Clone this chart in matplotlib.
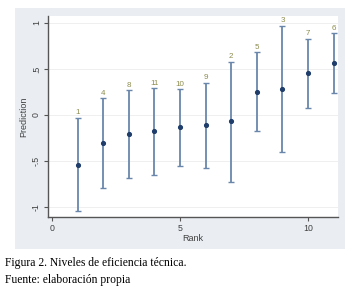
import matplotlib
matplotlib.use("Agg")
import matplotlib.pyplot as plt
from matplotlib.patches import Rectangle

rank = [1, 2, 3, 4, 5, 6, 7, 8, 9, 10, 11]
prediction = [-0.54, -0.31, -0.21, -0.18, -0.13, -0.11, -0.07, 0.25, 0.28, 0.46, 0.57]
upper = [-0.03, 0.18, 0.27, 0.29, 0.28, 0.35, 0.58, 0.68, 0.97, 0.83, 0.89]
lower = [-1.05, -0.80, -0.69, -0.65, -0.56, -0.58, -0.73, -0.17, -0.40, 0.08, 0.24]
labels = ["1", "4", "8", "11", "10", "9", "2", "5", "3", "7", "6"]
yticks = [-1, -0.5, 0, 0.5, 1]
ytick_labels = ["-1", "-.5", "0", ".5", "1"]
xticks = [0, 5, 10]
xtick_labels = ["0", "5", "10"]

W, H = 354, 291
fig = plt.figure(figsize=(W / 100, H / 100), dpi=100)
fig.patch.set_facecolor("white")

# Stata-style graph region
fig.patches.append(Rectangle((15 / W, 1 - 249 / H), 330 / W, 241 / H,
                             transform=fig.transFigure, facecolor="#eaeef3",
                             edgecolor="none", zorder=0))

ax = fig.add_axes([48 / W, 1 - 217 / H, 290 / W, 201 / H])
ax.set_facecolor("white")
ax.set_zorder(1)

bar_color = "#6a87ab"
pt_color = "#1f3d6b"
lab_color = "#8c8c4e"
txt_color = "#404040"

yerr = [[p - l for p, l in zip(prediction, lower)],
        [u - p for p, u in zip(prediction, upper)]]
ax.errorbar(rank, prediction, yerr=yerr, fmt="o", color=pt_color, ms=2.7,
            ecolor=bar_color, elinewidth=1.3, capsize=2.2, capthick=1.0, zorder=3)

for x, u, t in zip(rank, upper, labels):
    ax.annotate(t, (x, u), xytext=(0, 1.0), textcoords="offset points",
                ha="center", va="bottom", fontsize=5.8, color=lab_color,
                family="Liberation Sans")

ax.set_xlim(-0.16, 11.17)
ax.set_ylim(-1.11, 1.076)
ax.set_yticks(yticks)
ax.set_yticklabels(ytick_labels, rotation=90, va="center")
ax.set_xticks(xticks)
ax.set_xticklabels(xtick_labels)
ax.grid(axis="y", color="#efefef", linewidth=0.7)
ax.set_axisbelow(True)

for s in ["top", "right"]:
    ax.spines[s].set_visible(False)
for s in ["left", "bottom"]:
    ax.spines[s].set_color("#555555")
    ax.spines[s].set_linewidth(1.0)

ax.tick_params(axis="both", labelsize=6.3, colors="#555555", labelcolor=txt_color,
               length=3, width=0.8, pad=2)
for lab in ax.get_xticklabels() + ax.get_yticklabels():
    lab.set_family("Liberation Sans")

ax.set_ylabel("Prediction", fontsize=6.5, color=txt_color, family="Liberation Sans",
              labelpad=3)
ax.set_xlabel("Rank", fontsize=6.5, color=txt_color, family="Liberation Sans",
              labelpad=1)

fig.text(5 / W, 1 - 263 / H, "Figura 2. Niveles de eficiencia técnica.",
         fontsize=8.4, family="Liberation Serif", color="black", va="center")
fig.text(5 / W, 1 - 280 / H, "Fuente: elaboración propia",
         fontsize=8.4, family="Liberation Serif", color="black", va="center")

fig.savefig("out.png", dpi=100, facecolor="white")
